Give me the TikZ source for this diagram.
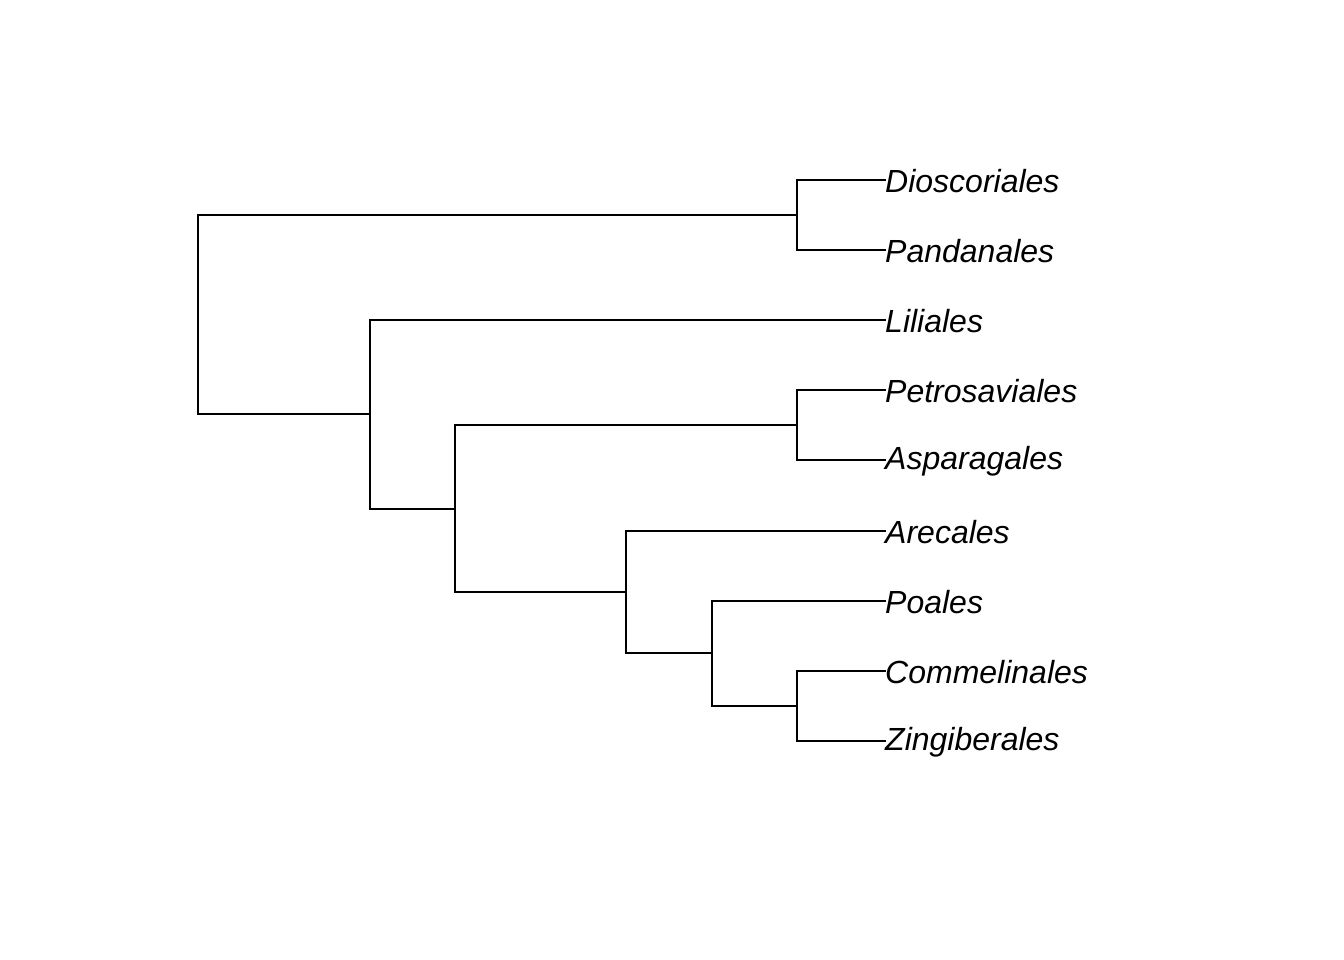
\documentclass[tikz,border=0pt]{standalone}
\usepackage{fontspec}
\setmainfont{Liberation Sans}
\begin{document}
\begin{tikzpicture}[x=1pt,y=-1pt,
  branch/.style={line width=1.5pt,line cap=rect},
  taxon/.style={anchor=west,inner sep=0pt,yshift=-1.5pt,font=\fontsize{32}{37}\selectfont\itshape}]
\useasboundingbox (0,0) rectangle (1344,960);
% tips
\coordinate (tDio) at (885,180);
\coordinate (tPan) at (885,250);
\coordinate (tLil) at (885,320);
\coordinate (tPet) at (885,390);
\coordinate (tAsp) at (885,460);
\coordinate (tAre) at (885,531);
\coordinate (tPoa) at (885,601);
\coordinate (tCom) at (885,671);
\coordinate (tZin) at (885,741);
% internal nodes
\coordinate (nR) at (198,315);
\coordinate (nA) at (797,215);
\coordinate (nB) at (370,414);
\coordinate (nC) at (455,509);
\coordinate (nD) at (797,425);
\coordinate (nE) at (626,592);
\coordinate (nF) at (712,653);
\coordinate (nG) at (797,706);
% branches
\draw[branch] (nR) |- (nA);
\draw[branch] (nR) |- (nB);
\draw[branch] (nA) |- (tDio);
\draw[branch] (nA) |- (tPan);
\draw[branch] (nB) |- (tLil);
\draw[branch] (nB) |- (nC);
\draw[branch] (nC) |- (nD);
\draw[branch] (nC) |- (nE);
\draw[branch] (nD) |- (tPet);
\draw[branch] (nD) |- (tAsp);
\draw[branch] (nE) |- (tAre);
\draw[branch] (nE) |- (nF);
\draw[branch] (nF) |- (tPoa);
\draw[branch] (nF) |- (nG);
\draw[branch] (nG) |- (tCom);
\draw[branch] (nG) |- (tZin);
% labels
\node[taxon] (lDio) at (tDio) {Dioscoriales};
\node[taxon] (lPan) at (tPan) {Pandanales};
\node[taxon] (lLil) at (tLil) {Liliales};
\node[taxon] (lPet) at (tPet) {Petrosaviales};
\node[taxon] (lAsp) at (tAsp) {Asparagales};
\node[taxon] (lAre) at (tAre) {Arecales};
\node[taxon] (lPoa) at (tPoa) {Poales};
\node[taxon] (lCom) at (tCom) {Commelinales};
\node[taxon] (lZin) at (tZin) {Zingiberales};
\end{tikzpicture}
\end{document}
